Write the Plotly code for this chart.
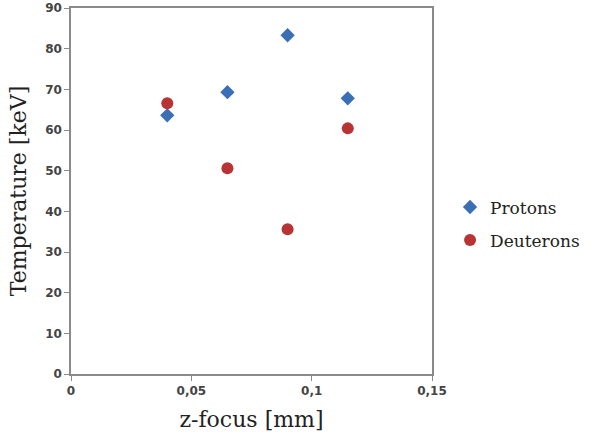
import plotly.graph_objects as go

z_focus = [0.04, 0.065, 0.09, 0.115]
protons = [63.6, 69.3, 83.3, 67.8]
deuterons = [66.6, 50.6, 35.6, 60.4]

x_ticks = [0, 0.05, 0.1, 0.15]
x_tick_labels = ["0", "0,05", "0,1", "0,15"]
y_ticks = [0, 10, 20, 30, 40, 50, 60, 70, 80, 90]

fig = go.Figure()
fig.add_trace(go.Scatter(x=z_focus, y=protons, mode="markers", name="Protons", legendgroup="p",
                         marker=dict(symbol="diamond", size=11, color="#3a6eb5")))
fig.add_trace(go.Scatter(x=z_focus, y=deuterons, mode="markers", name="Deuterons", legendgroup="d",
                         marker=dict(symbol="circle", size=12, color="#b83434")))

fig.update_layout(
    width=607, height=443,
    margin=dict(l=71, r=175, t=8, b=69, autoexpand=False),
    paper_bgcolor="white", plot_bgcolor="white",
    separators=", ",
    showlegend=True,
    legend=dict(x=1.05, y=0.41, xanchor="left", yanchor="middle",
                font=dict(family="DejaVu Serif", size=17, color="#222"),
                itemwidth=30, tracegroupgap=8, bgcolor="rgba(0,0,0,0)"),
    xaxis=dict(range=[0, 0.15], tickvals=x_ticks, ticktext=x_tick_labels,
               showgrid=False, zeroline=False, showline=True, linecolor="#8a8a8a",
               linewidth=1.5, mirror=True, ticks="outside", ticklen=5, tickcolor="#8a8a8a",
               tickfont=dict(family="DejaVu Sans", size=12, color="#444", weight="bold"),
               title=dict(text="z-focus [mm]", font=dict(family="DejaVu Serif", size=22, color="#222"),
                          standoff=14)),
    yaxis=dict(range=[0, 90], tickvals=y_ticks,
               showgrid=False, zeroline=False, showline=True, linecolor="#8a8a8a",
               linewidth=1.5, mirror=True, ticks="outside", ticklen=5, tickcolor="#8a8a8a",
               tickfont=dict(family="DejaVu Sans", size=12, color="#444", weight="bold"),
               title=dict(text="Temperature [keV]", font=dict(family="DejaVu Serif", size=22, color="#222"),
                          standoff=12)),
)

fig.write_html("out.html")
